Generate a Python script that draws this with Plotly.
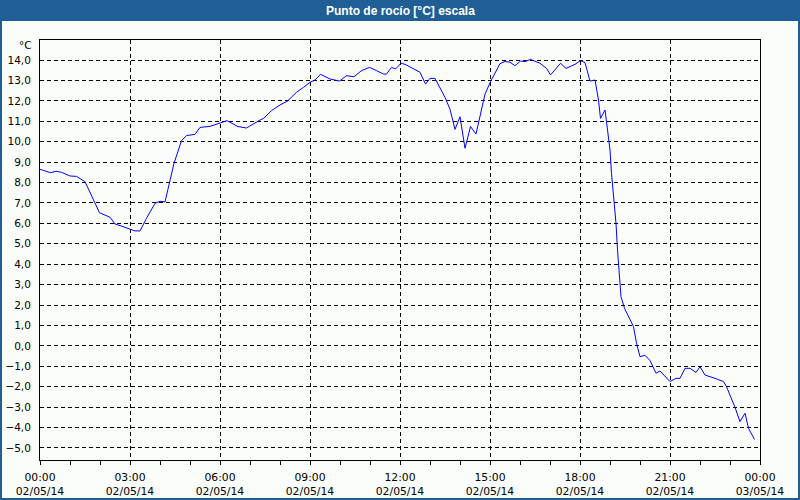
import plotly.graph_objects as go

# --- data ---
times = ["00:00", "00:21", "00:32", "00:43", "01:00", "01:13", "01:30", "01:43", "01:59", "02:20",
         "02:30", "02:40", "03:00", "03:10", "03:20", "03:33", "03:50", "04:00", "04:10", "04:28",
         "04:43", "04:53", "05:10", "05:20", "05:40", "06:00", "06:14", "06:36", "06:53", "07:20",
         "07:27", "07:43", "08:00", "08:15", "08:33", "08:47", "09:00", "09:10", "09:21", "09:40",
         "09:59", "10:13", "10:28", "10:43", "10:59", "11:13", "11:27", "11:33", "11:43", "11:51",
         "12:02", "12:10", "12:27", "12:40", "12:51", "13:00", "13:10", "13:30", "13:40", "13:50",
         "14:00", "14:10", "14:21", "14:32", "14:50", "15:01", "15:20", "15:30", "15:40", "15:50",
         "16:01", "16:10", "16:21", "16:33", "16:40", "16:53", "17:01", "17:21", "17:32", "17:50",
         "18:01", "18:10", "18:20", "18:30", "18:37", "18:41", "18:50", "18:53", "19:00", "19:03",
         "19:08", "19:12", "19:15", "19:19", "19:22", "19:29", "19:37", "19:47", "19:53", "20:00",
         "20:10", "20:20", "20:32", "20:40", "21:00", "21:12", "21:20", "21:30", "21:40", "21:52",
         "22:00", "22:10", "22:30", "22:47", "22:53", "23:10", "23:20", "23:30", "23:37", "23:49"]
dew_point = [8.65, 8.48, 8.55, 8.50, 8.32, 8.30, 8.04, 7.39, 6.52, 6.30,
             5.97, 5.89, 5.72, 5.63, 5.63, 6.25, 6.98, 7.08, 7.05, 8.94,
             10.05, 10.30, 10.36, 10.70, 10.75, 10.90, 11.03, 10.74, 10.67, 11.06,
             11.14, 11.52, 11.80, 11.99, 12.42, 12.66, 12.91, 13.02, 13.30, 13.07,
             12.97, 13.23, 13.18, 13.48, 13.64, 13.48, 13.31, 13.31, 13.64, 13.56,
             13.84, 13.79, 13.56, 13.40, 12.82, 13.10, 13.10, 12.17, 11.59, 10.60,
             11.22, 9.68, 10.74, 10.38, 12.33, 12.94, 13.82, 13.93, 13.89, 13.72,
             13.95, 13.92, 14.03, 13.89, 13.84, 13.59, 13.27, 13.84, 13.59, 13.79,
             13.97, 13.87, 12.97, 13.02, 12.04, 11.14, 11.55, 10.98, 9.59, 8.45,
             7.14, 6.00, 4.70, 3.39, 2.41, 1.84, 1.43, 0.94, 0.13, -0.53,
             -0.46, -0.72, -1.34, -1.23, -1.75, -1.59, -1.59, -1.10, -1.10, -1.30,
             -1.02, -1.43, -1.59, -1.75, -2.00, -3.01, -3.71, -3.30, -4.04, -4.58]
x_tick_vals = ["2014-05-02 00:00", "2014-05-02 03:00", "2014-05-02 06:00", "2014-05-02 09:00",
               "2014-05-02 12:00", "2014-05-02 15:00", "2014-05-02 18:00", "2014-05-02 21:00",
               "2014-05-03 00:00"]
x_tick_text = ["00:00<br>02/05/14", "03:00<br>02/05/14", "06:00<br>02/05/14", "09:00<br>02/05/14",
               "12:00<br>02/05/14", "15:00<br>02/05/14", "18:00<br>02/05/14", "21:00<br>02/05/14",
               "00:00<br>03/05/14"]
y_tick_vals = list(range(-5, 15))
title_text = "Punto de rocío [°C] escala"
unit_text = "°C"

x = ["2014-05-02 " + t for t in times]

BLUE = "#1f5f96"
BG = "#fbfdfb"
FONT = "DejaVu Sans"

fig = go.Figure()
fig.add_trace(go.Scatter(x=x, y=dew_point, mode="lines",
                         line=dict(color="#0000ff", width=1), hoverinfo="skip"))

W, H = 800, 500
ml, mr, mt, mb = 40, 40, 40, 40
pw, ph = W - ml - mr, H - mt - mb


def px(xp):
    return (xp - ml) / pw


def py(yp):
    return (H - mb - yp) / ph


fig.update_layout(
    width=W, height=H,
    margin=dict(l=ml, r=mr, t=mt, b=mb, autoexpand=False),
    paper_bgcolor=BG, plot_bgcolor=BG,
    separators=",.",
    showlegend=False,
    font=dict(family=FONT, size=10, color="#000000"),
    xaxis=dict(
        type="date", automargin=False,
        range=["2014-05-02 00:00", "2014-05-03 00:00"],
        tickvals=x_tick_vals, ticktext=x_tick_text,
        ticks="outside", ticklen=4, tickcolor="#000000", tickwidth=1,
        ticklabelstandoff=3,
        showgrid=True, gridcolor="#000000", gridwidth=1, griddash="4px,3px",
        showline=True, linecolor="#000000", linewidth=1, mirror=True,
        zeroline=False,
        minor=dict(dtick=3600000, ticks="outside", ticklen=4, tickcolor="#000000", showgrid=False),
        tickfont=dict(family=FONT, size=10.8, color="#000000"),
        fixedrange=True,
    ),
    yaxis=dict(
        automargin=False,
        range=[-5.59, 14.98],
        tickvals=y_tick_vals, tickformat=".1f",
        ticks="", ticklabelstandoff=6,
        showgrid=True, gridcolor="#000000", gridwidth=1, griddash="4px,3px",
        showline=True, linecolor="#000000", linewidth=1, mirror=True,
        zeroline=False,
        tickfont=dict(family=FONT, size=10.5, color="#000000"),
        fixedrange=True,
    ),
    shapes=[
        dict(type="rect", xref="paper", yref="paper",
             x0=px(0), x1=px(W), y0=py(21), y1=py(0),
             fillcolor=BLUE, line=dict(width=0), layer="above"),
        dict(type="rect", xref="paper", yref="paper",
             x0=px(1), x1=px(W - 1), y0=py(H - 1), y1=py(1),
             fillcolor="rgba(0,0,0,0)", line=dict(color=BLUE, width=2), layer="above"),
    ],
    annotations=[
        dict(text="<b>" + title_text + "</b>", xref="paper", yref="paper",
             x=0.5, y=py(10.5), xanchor="center", yanchor="middle", showarrow=False,
             font=dict(family="Liberation Sans", size=12, color="#ffffff")),
        dict(text=unit_text, xref="paper", yref="paper",
             x=px(34), y=py(45), xanchor="right", yanchor="middle", showarrow=False,
             font=dict(family=FONT, size=10.5, color="#000000")),
    ],
)

fig.write_html("out.html", config=dict(displayModeBar=False))
